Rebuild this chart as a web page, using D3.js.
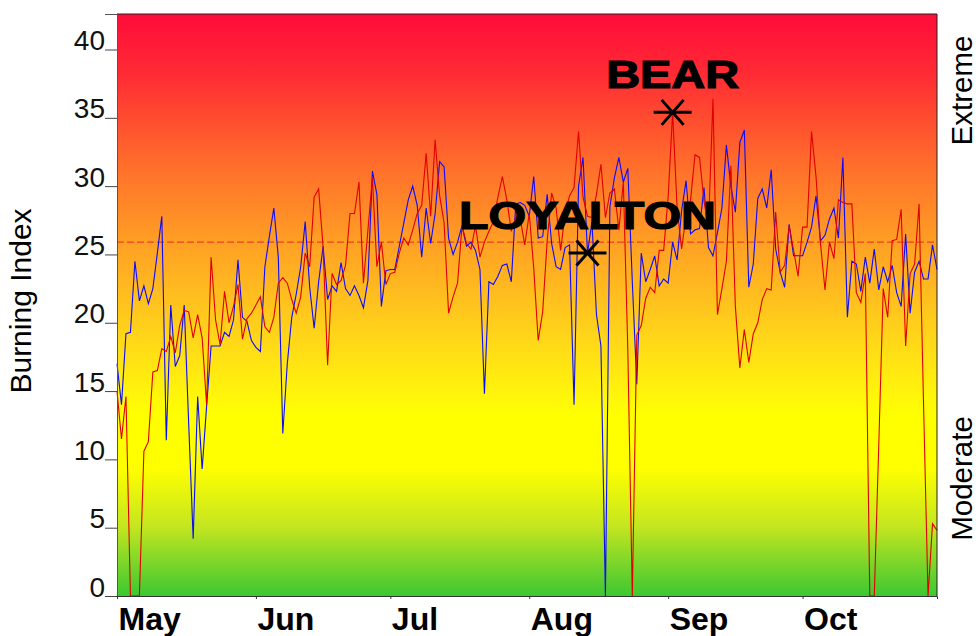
<!DOCTYPE html>
<html>
<head>
<meta charset="utf-8">
<script src="https://cdn.jsdelivr.net/npm/d3@7"></script>
<style>
  body { margin: 0; background: #fff; }
  svg { display: block; font-family: "Liberation Sans", Arial, sans-serif; }
</style>
</head>
<body>
<svg id="chart" width="978" height="636"></svg>
<script>
// daily values, May 1 .. Oct 31
const startDate = new Date(2020, 4, 1);
const loyalton = [
  17.0, 14.0, 19.2, 19.3, 24.5, 21.6, 22.7, 21.4, 22.5, 25.1,
  27.8, 11.4, 21.3, 16.8, 17.6, 21.3, 12.6, 4.2, 14.6, 9.3,
  13.9, 18.3, 18.3, 18.3, 19.3, 19.0, 20.2, 24.6, 20.4, 20.1,
  18.7, 18.2, 17.9, 24.1, 26.3, 28.4, 24.8, 11.9, 17.0, 20.4,
  22.1, 24.1, 27.4, 22.6, 19.6, 23.0, 25.6, 21.7, 22.7, 22.3,
  24.4, 22.5, 22.0, 22.7, 22.0, 21.1, 23.1, 31.1, 29.4, 21.2,
  23.8, 23.9, 23.9, 25.6, 27.3, 29.0, 30.0, 28.6, 24.8, 28.4,
  25.8, 28.0, 31.8, 31.4, 26.2, 25.0, 25.9, 27.1, 25.6, 25.9,
  25.3, 23.9, 14.8, 23.0, 22.8, 23.4, 24.2, 24.3, 23.0, 28.7,
  28.8, 28.6, 27.8, 30.7, 26.2, 26.3, 29.4, 25.8, 24.1, 23.9,
  25.5, 25.7, 14.0, 30.0, 32.1, 25.1, 27.4, 20.6, 18.3, 0,
  28.5, 30.6, 32.1, 30.3, 31.3, 23.0, 15.5, 25.1, 23.0, 23.9,
  24.9, 22.7, 23.2, 22.9, 25.9, 24.6, 28.2, 30.4, 26.5, 26.8,
  26.9, 29.9, 25.5, 24.9, 26.6, 28.4, 33.0, 30.0, 28.1, 33.2,
  34.1, 22.6, 24.3, 29.1, 29.8, 28.4, 31.2, 25.4, 23.7, 22.6,
  27.2, 24.9, 24.9, 24.9, 25.9, 27.0, 29.3, 26.0, 26.4, 27.6,
  28.4, 26.2, 32.1, 20.4, 24.5, 24.3, 22.3, 24.8, 22.9, 25.4,
  22.4, 24.1, 23.0, 24.2, 22.2, 21.2, 26.5, 20.7, 23.7, 24.5,
  23.2, 23.2, 25.7, 23.9
];
const bear = [
  15.0, 11.5, 14.6, 0, 0, 0, 10.6, 11.3, 16.4, 16.5,
  18.1, 17.9, 19.0, 17.8, 19.8, 20.9, 20.8, 18.9, 20.6, 18.9,
  14.0, 24.8, 20.2, 18.4, 22.3, 20.0, 21.2, 22.8, 18.8, 20.3,
  20.7, 21.3, 21.9, 19.7, 19.3, 20.4, 22.9, 23.3, 22.9, 21.7,
  20.7, 21.9, 25.1, 24.1, 29.2, 29.8, 25.5, 16.9, 23.6, 22.8,
  23.1, 24.2, 28.0, 28.0, 30.3, 22.9, 26.8, 30.6, 24.1, 25.9,
  22.8, 23.6, 23.7, 25.1, 26.2, 25.7, 26.8, 28.0, 28.6, 32.4,
  27.8, 33.4, 29.3, 27.3, 20.7, 21.9, 22.9, 27.1, 25.8, 25.4,
  27.1, 24.8, 25.9, 26.7, 27.4, 29.2, 30.7, 29.0, 26.7, 27.7,
  27.6, 25.7, 28.0, 24.0, 18.7, 20.8, 26.0, 29.5, 28.4, 25.3,
  28.0, 29.3, 29.9, 34.0, 29.2, 27.8, 27.7, 29.4, 31.6, 27.7,
  29.5, 29.8, 26.8, 30.3, 18.0, 0, 19.1, 19.8, 21.8, 22.6,
  22.2, 25.3, 25.3, 29.2, 35.4, 28.4, 25.4, 27.8, 29.0, 32.3,
  32.1, 28.9, 27.0, 36.4, 20.6, 22.5, 24.5, 31.5, 21.2, 16.7,
  19.5, 17.1, 19.2, 20.0, 21.7, 22.5, 22.4, 28.1, 23.7, 24.2,
  27.1, 25.3, 23.4, 27.0, 27.0, 34.0, 30.7, 25.8, 22.4, 25.9,
  24.7, 29.0, 28.8, 28.7, 28.7, 22.2, 21.5, 23.6, 0, 0,
  11.0, 22.5, 20.4, 26.0, 26.1, 28.3, 18.3, 23.6, 24.3, 28.7,
  14.0, 0, 5.3, 4.8
];
const yTicks = [0, 5, 10, 15, 20, 25, 30, 35, 40];
const monthLabels = ["May", "Jun", "Jul", "Aug", "Sep", "Oct"];
const thresholdValue = 25.9;
const stations = ["BEAR", "LOYALTON"];
const stationMarkDay = [124, 105];
const stationLabelWidth = [133, 257];
const bandLabels = ["Extreme", "Moderate"];
const bandLabelValues = [37.0, 8.6];

const margin = {top: 14, right: 41, bottom: 40, left: 117};
const width = 978 - margin.left - margin.right,
      height = 636 - margin.top - margin.bottom;

const svg = d3.select("#chart");
const dates = loyalton.map((v, i) => d3.timeDay.offset(startDate, i));

const xScale = d3.scaleTime()
    .domain([dates[0], dates[dates.length - 1]])
    .range([0, width]);
const yScale = d3.scaleLinear()
    .domain([0, 42.6])
    .range([height, 0]);

// background gradient, red at top to green at bottom
const defs = svg.append("defs");
const grad = defs.append("linearGradient")
    .attr("id", "bg")
    .attr("x1", 0).attr("y1", 0).attr("x2", 0).attr("y2", 1);
const stops = [
  [0.00, "#ff0c3a"], [0.10, "#ff2a34"], [0.25, "#ff6a2c"], [0.40, "#ffa224"],
  [0.55, "#ffd41a"], [0.66, "#fff70a"], [0.69, "#ffff00"], [0.78, "#ffff00"],
  [0.88, "#c4e620"], [1.00, "#3cc832"]
];
grad.selectAll("stop").data(stops).enter().append("stop")
    .attr("offset", d => d[0])
    .attr("stop-color", d => d[1]);

const g = svg.append("g")
    .attr("transform", "translate(" + margin.left + "," + margin.top + ")");

g.append("rect")
    .attr("width", width)
    .attr("height", height)
    .attr("fill", "url(#bg)");

// threshold dashed line
g.append("line")
    .attr("x1", 0).attr("x2", width)
    .attr("y1", yScale(thresholdValue)).attr("y2", yScale(thresholdValue))
    .attr("stroke", "#f04020")
    .attr("stroke-width", 1.2)
    .attr("stroke-dasharray", "7,3");

const line = d3.line()
    .x((d, i) => xScale(dates[i]))
    .y(d => yScale(d));

g.append("path")
    .datum(loyalton)
    .attr("fill", "none")
    .attr("stroke", "#0a0aff")
    .attr("stroke-width", 1.1)
    .attr("d", line);

g.append("path")
    .datum(bear)
    .attr("fill", "none")
    .attr("stroke", "#e00000")
    .attr("stroke-width", 1.1)
    .attr("d", line);

// frame
g.append("path")
    .attr("d", "M0,0H" + width + "V" + height)
    .attr("fill", "none")
    .attr("stroke", "#222")
    .attr("stroke-width", 1);

// y axis
const yAxis = g.append("g")
    .call(d3.axisLeft(yScale).tickValues(yTicks).tickSize(12).tickPadding(0));
yAxis.select(".domain").attr("stroke", "#555");
yAxis.selectAll(".tick line").attr("stroke", "#444");
yAxis.selectAll(".tick text")
    .attr("x", -12)
    .attr("dy", 0)
    .attr("fill", "#111")
    .style("font-size", "28px")
    .style("font-family", "'Liberation Sans', Arial, sans-serif");

// x axis with month labels
const monthTicks = monthLabels.map((m, i) => new Date(2020, 4 + i, 1));
const xAxis = g.append("g")
    .attr("transform", "translate(0," + height + ")")
    .call(d3.axisBottom(xScale).tickValues(monthTicks).tickSize(3)
        .tickFormat((d, i) => monthLabels[i]));
xAxis.select(".domain").attr("stroke", "#333");
xAxis.selectAll(".tick line").attr("stroke", "#333");
xAxis.selectAll(".tick text")
    .attr("text-anchor", "start")
    .attr("x", 1)
    .attr("y", 34)
    .attr("dy", 0)
    .attr("fill", "#000")
    .style("font-size", "32px")
    .style("font-weight", "bold")
    .style("font-family", "'Liberation Sans', Arial, sans-serif");

// y axis title
svg.append("text")
    .attr("transform", "translate(31," + (margin.top + height / 2 - 4) + ") rotate(-90)")
    .attr("text-anchor", "middle")
    .style("font-size", "30px")
    .attr("fill", "#000")
    .text("Burning Index");

// right side band labels
svg.selectAll(".band")
    .data(bandLabels)
    .enter().append("text")
    .attr("class", "band")
    .attr("transform", (d, i) => "translate(972," + (margin.top + yScale(bandLabelValues[i])) + ") rotate(-90)")
    .attr("text-anchor", "middle")
    .style("font-size", "29.5px")
    .attr("fill", "#000")
    .text(d => d);

// station markers and names
const seriesByStation = [bear, loyalton];
const marks = g.selectAll(".mark")
    .data(stations)
    .enter().append("g")
    .attr("class", "mark")
    .attr("transform", (d, i) => {
        const day = stationMarkDay[i];
        return "translate(" + xScale(dates[day]) + "," + yScale(seriesByStation[i][day]) + ")";
    });
marks.append("path")
    .attr("d", "M-19,0H19M-11,-12.5L11,12.5M-11,12.5L11,-12.5")
    .attr("stroke", "#000")
    .attr("stroke-width", 3)
    .attr("fill", "none");
marks.append("text")
    .attr("x", 0)
    .attr("y", -24)
    .attr("text-anchor", "middle")
    .attr("textLength", (d, i) => stationLabelWidth[i])
    .attr("lengthAdjust", "spacingAndGlyphs")
    .style("font-family", "'Liberation Sans', Arial, sans-serif")
    .style("font-weight", "bold")
    .style("font-size", "38px")
    .attr("fill", "#000")
    .attr("stroke", "#000")
    .attr("stroke-width", 1.2)
    .text(d => d);
</script>
</body>
</html>
